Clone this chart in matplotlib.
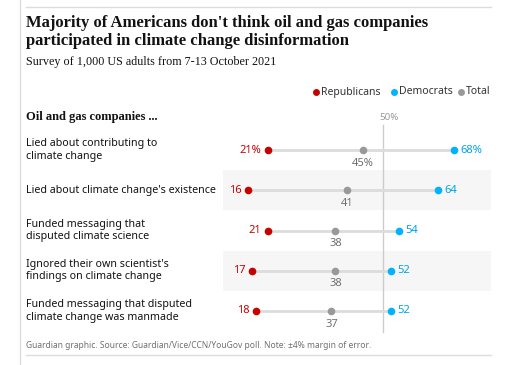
import matplotlib
matplotlib.use("Agg")
import matplotlib.pyplot as plt

categories = [
    "Lied about contributing to\nclimate change",
    "Lied about climate change's existence",
    "Funded messaging that\ndisputed climate science",
    "Ignored their own scientist's\nfindings on climate change",
    "Funded messaging that disputed\nclimate change was manmade",
]
republicans = [21, 16, 21, 17, 18]
democrats = [68, 64, 54, 52, 52]
total = [45, 41, 38, 38, 37]

RED = "#c70000"
BLUE = "#00b2ff"
GREY = "#999999"
W, H = 521, 365
SANS = ["Noto Sans", "DejaVu Sans"]
SERIF = ["Liberation Serif", "DejaVu Serif"]

fig = plt.figure(figsize=(W / 100, H / 100), dpi=100)
fig.patch.set_facecolor("white")

def fx(x):
    return x / W

def fy(y):
    return 1 - y / H

# frame lines
fig.add_artist(plt.Line2D([fx(19.5), fx(19.5)], [0, 1], color="#dcdcdc", lw=1))
fig.add_artist(plt.Line2D([fx(26), fx(491)], [fy(7), fy(7)], color="#dcdcdc", lw=1))
fig.add_artist(plt.Line2D([fx(26), fx(491)], [fy(355), fy(355)], color="#dcdcdc", lw=1))

fig.text(fx(26), fy(32), "Majority of Americans don't think oil and gas companies\nparticipated in climate change disinformation",
         family=SERIF, fontweight="bold", fontsize=12, color="#121212", va="center", ha="left", linespacing=1.22)
fig.text(fx(26), fy(62), "Survey of 1,000 US adults from 7-13 October 2021",
         family=SERIF, fontsize=8.7, color="#121212", va="center", ha="left")
fig.text(fx(26), fy(117), "Oil and gas companies ...",
         family=SERIF, fontweight="bold", fontsize=9, color="#121212", va="center", ha="left")

# legend
leg = [("Republicans", RED, 316), ("Democrats", BLUE, 394), ("Total", GREY, 461)]
for name, col, x in leg:
    fig.add_artist(plt.Line2D([fx(x)], [fy(92)], marker="o", ms=5, color=col, lw=0, mec="none"))
    fig.text(fx(x + 5), fy(92), name, family=SANS, fontsize=7.5, color="#333333", va="center", ha="left")

# axes: x 223..491 px, y 130..331 px
ax = fig.add_axes([fx(223), fy(331), fx(491) - fx(223), (331 - 130) / H])
ax.set_xlim(9.6, 77.3)
ax.set_ylim(4.5, -0.5)
ax.axis("off")

n = len(categories)
for i in range(n):
    if i % 2 == 1:
        ax.axhspan(i - 0.5, i + 0.5, color="#f6f6f6", lw=0, zorder=0)

ax.plot([50, 50], [-0.62, 4.52], color="#cccccc", lw=1, clip_on=False, zorder=1)
fig.text(fx(389), fy(118), "50%", family=SANS, fontsize=7, color="#999999", ha="center", va="center")

for i in range(n):
    r, d, t = republicans[i], democrats[i], total[i]
    ax.plot([r, d], [i, i], color="#dcdcdc", lw=2, solid_capstyle="butt", zorder=2)
    ax.plot([t], [i], "o", color=GREY, ms=5.5, mec="none", zorder=3)
    ax.plot([r], [i], "o", color=RED, ms=5.5, mec="none", zorder=3)
    ax.plot([d], [i], "o", color=BLUE, ms=5.5, mec="none", zorder=3)
    suffix = "%" if i == 0 else ""
    ax.annotate(f"{r}{suffix}", (r, i), xytext=(-5, 0), textcoords="offset points",
                ha="right", va="center", family=SANS, fontsize=8, color=RED)
    ax.annotate(f"{d}{suffix}", (d, i), xytext=(4.5, 0), textcoords="offset points",
                ha="left", va="center", family=SANS, fontsize=8, color="#00a3e8")
    ax.annotate(f"{t}{suffix}", (t, i), xytext=(0, -9.5), textcoords="offset points",
                ha="center", va="center", family=SANS, fontsize=8, color="#707070")
    fig.text(fx(26), fy(150 + i * 40.2), categories[i], family=SANS, fontsize=7.7,
             color="#121212", ha="left", va="center", linespacing=1.2)

fig.text(fx(26), fy(346), "Guardian graphic. Source: Guardian/Vice/CCN/YouGov poll. Note: \u00b14% margin of error.",
         family=SANS, fontsize=6.1, color="#707070", ha="left", va="center")

fig.savefig("out.png", dpi=100, facecolor="white")
